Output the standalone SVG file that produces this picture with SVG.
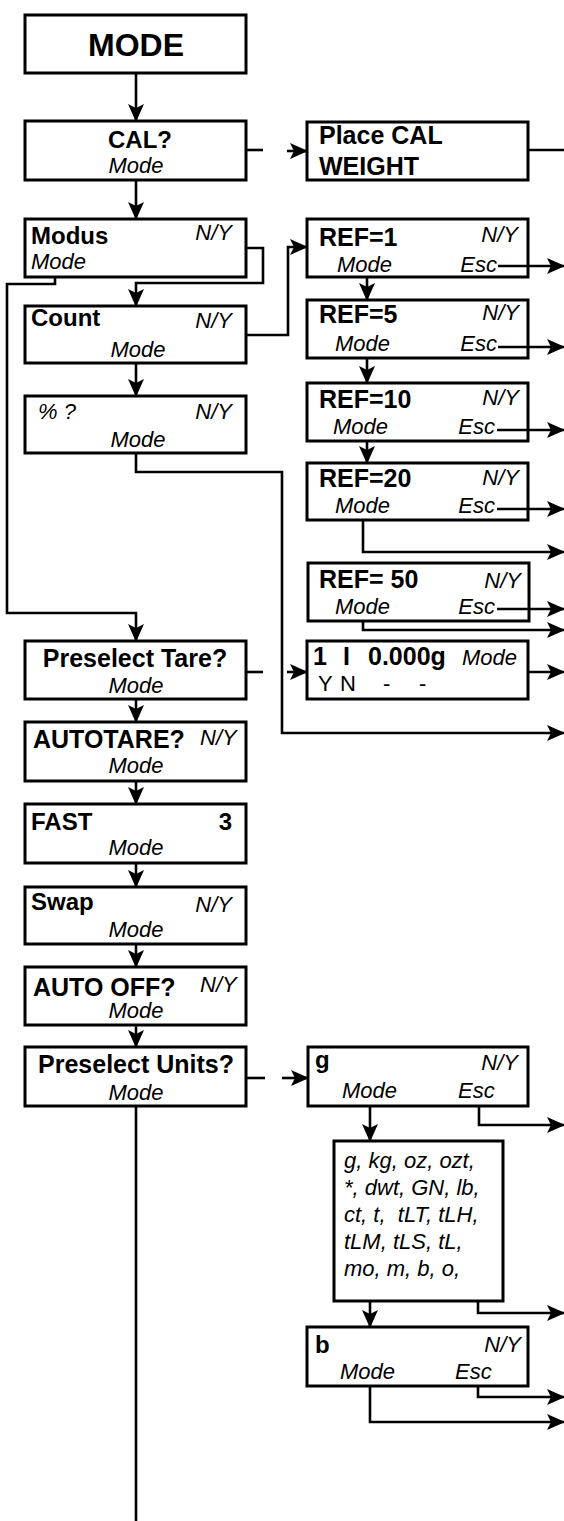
<svg xmlns="http://www.w3.org/2000/svg" width="564" height="1521" viewBox="0 0 564 1521">
<style>
.box{fill:#fff;stroke:#000;stroke-width:3}
.c{fill:none;stroke:#000;stroke-width:2.6}
.a{marker-end:url(#ah)}
text{font-family:"Liberation Sans",Arial,sans-serif;fill:#000}
.b{font-weight:bold;font-size:24px}
.i{font-style:italic;font-size:22px}
.r{font-size:22px}
.m{text-anchor:middle}
.e{text-anchor:end}
</style>
<defs>
<marker id="ah" markerUnits="userSpaceOnUse" markerWidth="18" markerHeight="16" refX="17" refY="8" orient="auto">
<path d="M0,0 L18,8 L0,16 L4,8 z" fill="#000"/>
</marker>
</defs>
<rect width="564" height="1521" fill="#fff"/>
<g id="mode"><rect class="box" x="25" y="15" width="221" height="58"/><text class="b m" x="136" y="56" style="font-size:32px">MODE</text></g>
<g id="cal"><rect class="box" x="25" y="121" width="221" height="59"/><text class="b m" x="140" y="148">CAL?</text><text class="i m" x="136" y="173">Mode</text></g>
<g id="placecal"><rect class="box" x="307" y="122" width="221" height="58"/><text class="b" x="319" y="144" style="font-size:25px">Place CAL</text><text class="b" x="319" y="175" style="font-size:25px">WEIGHT</text></g>
<g id="modus"><rect class="box" x="25" y="219" width="221" height="58"/><text class="b" x="31" y="244">Modus</text><text class="i e" x="232" y="240">N/Y</text><text class="i" x="31" y="269">Mode</text></g>
<g id="count"><rect class="box" x="25" y="306" width="221" height="57"/><text class="b" x="31" y="326">Count</text><text class="i e" x="232" y="328">N/Y</text><text class="i m" x="138" y="357">Mode</text></g>
<g id="percent"><rect class="box" x="25" y="396" width="221" height="57"/><text class="i" x="38" y="419">% ?</text><text class="i e" x="232" y="419">N/Y</text><text class="i m" x="138" y="447">Mode</text></g>
<g id="ref1"><rect class="box" x="307" y="219" width="221" height="58"/><text class="b" x="319" y="246" style="font-size:25px">REF=1</text><text class="i e" x="518" y="242">N/Y</text><text class="i" x="337" y="272">Mode</text><text class="i e" x="497" y="272">Esc</text></g>
<g id="ref5"><rect class="box" x="307" y="300" width="221" height="58"/><text class="b" x="319" y="323" style="font-size:25px">REF=5</text><text class="i e" x="519" y="320">N/Y</text><text class="i" x="335" y="351">Mode</text><text class="i e" x="497" y="351">Esc</text></g>
<g id="ref10"><rect class="box" x="307" y="383" width="221" height="58"/><text class="b" x="319" y="408" style="font-size:25px">REF=10</text><text class="i e" x="519" y="405">N/Y</text><text class="i" x="333" y="434">Mode</text><text class="i e" x="495" y="434">Esc</text></g>
<g id="ref20"><rect class="box" x="307" y="463" width="221" height="57"/><text class="b" x="319" y="487" style="font-size:25px">REF=20</text><text class="i e" x="519" y="485">N/Y</text><text class="i" x="335" y="513">Mode</text><text class="i e" x="495" y="513">Esc</text></g>
<g id="ref50"><rect class="box" x="308" y="563" width="221" height="58"/><text class="b" x="319" y="588" style="font-size:25px">REF= 50</text><text class="i e" x="521" y="588">N/Y</text><text class="i" x="335" y="614">Mode</text><text class="i e" x="495" y="614">Esc</text></g>
<g id="display"><rect class="box" x="307" y="641" width="221" height="58"/><text class="b" x="313" y="665" style="font-size:25px">1</text><text class="b" x="343" y="665" style="font-size:25px">I</text><text class="b" x="368" y="665" style="font-size:25px">0.000g</text><text class="i" x="462" y="665">Mode</text><text class="r" x="318" y="691">Y</text><text class="r" x="340" y="691">N</text><text class="r" x="383" y="691">-</text><text class="r" x="419" y="691">-</text></g>
<g id="tare"><rect class="box" x="25" y="641" width="221" height="58"/><text class="b m" x="135" y="667" style="font-size:25px">Preselect Tare?</text><text class="i m" x="136" y="693">Mode</text></g>
<g id="autotare"><rect class="box" x="25" y="722" width="221" height="59"/><text class="b" x="33" y="748" style="font-size:25px">AUTOTARE?</text><text class="i" x="200" y="745">N/Y</text><text class="i m" x="136" y="773">Mode</text></g>
<g id="fast"><rect class="box" x="25" y="804" width="221" height="59"/><text class="b" x="31" y="830">FAST</text><text class="b e" x="232" y="830">3</text><text class="i m" x="136" y="855">Mode</text></g>
<g id="swap"><rect class="box" x="25" y="887" width="221" height="57"/><text class="b" x="31" y="910">Swap</text><text class="i e" x="232" y="912">N/Y</text><text class="i m" x="136" y="937">Mode</text></g>
<g id="autooff"><rect class="box" x="25" y="967" width="221" height="58"/><text class="b" x="33" y="996" style="font-size:25px">AUTO OFF?</text><text class="i" x="200" y="992">N/Y</text><text class="i m" x="136" y="1018">Mode</text></g>
<g id="units"><rect class="box" x="25" y="1047" width="221" height="59"/><text class="b m" x="136" y="1073" style="font-size:25px">Preselect Units?</text><text class="i m" x="136" y="1100">Mode</text></g>
<g id="g"><rect class="box" x="308" y="1047" width="220" height="59"/><text class="b" x="315" y="1068">g</text><text class="i e" x="518" y="1070">N/Y</text><text class="i" x="342" y="1098">Mode</text><text class="i" x="458" y="1098">Esc</text></g>
<g id="list"><rect class="box" x="334" y="1141" width="169" height="160"/>
<text class="i" x="344" y="1168" style="white-space:pre">g, kg, oz, ozt,</text>
<text class="i" x="344" y="1195" style="white-space:pre">*, dwt, GN, lb,</text>
<text class="i" x="344" y="1222" style="white-space:pre">ct, t,  tLT, tLH,</text>
<text class="i" x="344" y="1249" style="white-space:pre">tLM, tLS, tL,</text>
<text class="i" x="344" y="1276" style="white-space:pre">mo, m, b, o,</text>
</g>
<g id="b"><rect class="box" x="307" y="1327" width="221" height="59"/><text class="b" x="315" y="1353">b</text><text class="i e" x="521" y="1352">N/Y</text><text class="i" x="340" y="1379">Mode</text><text class="i" x="455" y="1379">Esc</text></g>
<g id="connectors">
<path class="c a" d="M136,73 V121"/>
<path class="c" d="M246,150 H263"/>
<path class="c a" d="M287,151 H307"/>
<path class="c" d="M528,150 H564"/>
<path class="c a" d="M136,180 V219"/>
<path class="c a" d="M246,248 H263 V283 H136 V306"/>
<path class="c a" d="M55,277 V284 H7 V613 H136 V641"/>
<path class="c a" d="M136,363 V396"/>
<path class="c a" d="M246,335 H288 V247 H307"/>
<path class="c a" d="M136,453 V472 H282 V733 H564"/>
<path class="c a" d="M498,266 H564"/>
<path class="c a" d="M367,277 V300"/>
<path class="c a" d="M498,347 H564"/>
<path class="c a" d="M367,358 V383"/>
<path class="c a" d="M497,430 H564"/>
<path class="c a" d="M367,441 V463"/>
<path class="c a" d="M497,509 H564"/>
<path class="c a" d="M363,520 V552 H564"/>
<path class="c a" d="M497,609 H564"/>
<path class="c a" d="M363,621 V630 H564"/>
<path class="c" d="M246,672 H263"/>
<path class="c a" d="M287,672 H307"/>
<path class="c a" d="M528,672 H564"/>
<path class="c a" d="M136,699 V722"/>
<path class="c a" d="M136,781 V804"/>
<path class="c a" d="M136,863 V887"/>
<path class="c a" d="M136,944 V967"/>
<path class="c a" d="M136,1025 V1047"/>
<path class="c" d="M246,1078 H265"/>
<path class="c a" d="M282,1078 H308"/>
<path class="c" d="M136,1106 V1521"/>
<path class="c a" d="M479,1106 V1125 H564"/>
<path class="c a" d="M370,1106 V1141"/>
<path class="c a" d="M478,1301 V1313 H564"/>
<path class="c a" d="M370,1301 V1327"/>
<path class="c a" d="M478,1386 V1397 H564"/>
<path class="c a" d="M370,1386 V1422 H564"/>
</g>
</svg>
